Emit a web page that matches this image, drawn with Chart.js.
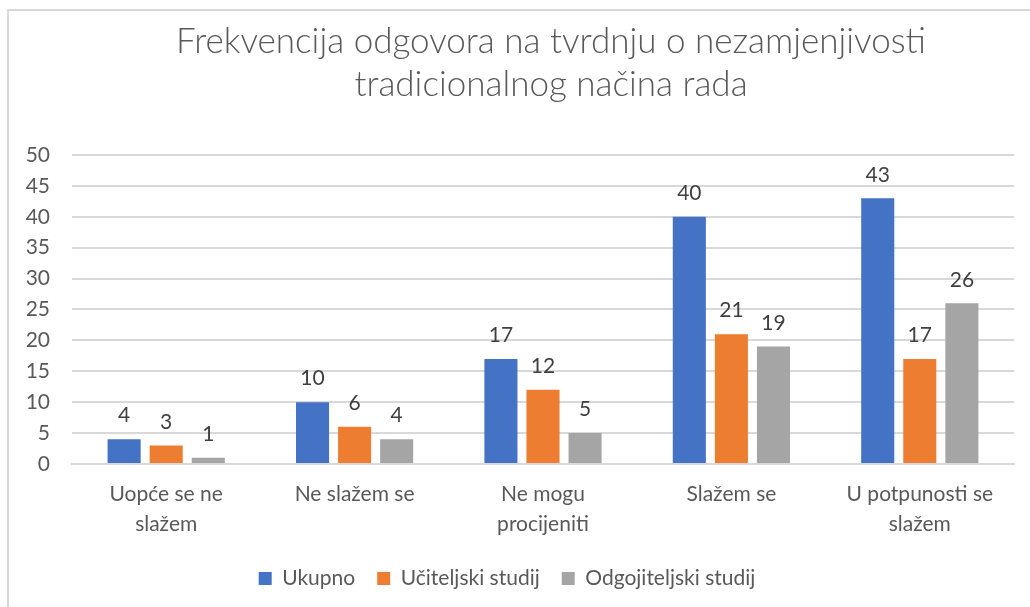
<!DOCTYPE html>
<html>
<head>
<meta charset="utf-8">
<script src="https://cdn.jsdelivr.net/npm/chart.js@4"></script>
<style>
  html, body { margin: 0; padding: 0; background: #fff; }
  #wrap { position: relative; width: 1030px; height: 607px; }
  #frame { position: absolute; left: 7px; top: 9px; width: 1040px; height: 620px;
           border: 2px solid #d9d9d9; box-sizing: border-box; pointer-events: none; }
</style>
</head>
<body>
<div id="wrap">
  <canvas id="chart" width="1030" height="607"></canvas>
  <div id="frame"></div>
</div>
<script>
const titleLines = ['Frekvencija odgovora na tvrdnju o nezamjenjivosti', 'tradicionalnog načina rada'];
const categories = [['Uopće se ne', 'slažem'], 'Ne slažem se', ['Ne mogu', 'procijeniti'], 'Slažem se', ['U potpunosti se', 'slažem']];
const ukupno = [4, 10, 17, 40, 43];
const uciteljski = [3, 6, 12, 21, 17];
const odgojiteljski = [1, 4, 5, 19, 26];

const FONT = "'Lato', 'Open Sans', sans-serif";
const TEXT = '#595959';

// value labels above bars
const barLabels = {
    id: 'barLabels',
    afterDatasetsDraw(chart) {
        const ctx = chart.ctx;
        ctx.save();
        ctx.font = '21px ' + FONT;
        ctx.fillStyle = '#404040';
        ctx.textAlign = 'center';
        ctx.textBaseline = 'bottom';
        chart.data.datasets.forEach((ds, i) => {
            chart.getDatasetMeta(i).data.forEach((bar, j) => {
                ctx.fillText(ds.data[j], bar.x, bar.y - 13);
            });
        });
        ctx.restore();
    }
};

// two line title, centred like the original
const titlePlugin = {
    id: 'titlePlugin',
    afterDraw(chart) {
        const ctx = chart.ctx;
        ctx.save();
        ctx.font = '300 35px ' + FONT;
        ctx.fillStyle = TEXT;
        ctx.textAlign = 'center';
        ctx.textBaseline = 'middle';
        ctx.fillText(titleLines[0], 551, 42);
        ctx.fillText(titleLines[1], 551, 85);
        ctx.restore();
    }
};

new Chart(document.getElementById('chart'), {
    type: 'bar',
    data: {
        labels: categories,
        datasets: [
            { label: 'Ukupno', data: ukupno, backgroundColor: '#4472C4' },
            { label: 'Učiteljski studij', data: uciteljski, backgroundColor: '#ED7D31' },
            { label: 'Odgojiteljski studij', data: odgojiteljski, backgroundColor: '#A5A5A5' }
        ]
    },
    options: {
        responsive: false,
        animation: false,
        categoryPercentage: 0.67,
        barPercentage: 0.786,
        layout: { padding: { top: 155, right: 16, left: 0, bottom: 8 } },
        plugins: {
            title: { display: false },
            tooltip: { enabled: false },
            legend: {
                position: 'bottom',
                labels: {
                    color: TEXT,
                    font: { family: FONT, size: 21 },
                    boxWidth: 13,
                    boxHeight: 13,
                    padding: 22
                }
            }
        },
        scales: {
            x: {
                grid: { display: false },
                border: { color: '#d9d9d9', width: 2 },
                ticks: {
                    color: TEXT,
                    font: { family: FONT, size: 21, lineHeight: 1.43 },
                    maxRotation: 0,
                    padding: 7
                }
            },
            y: {
                min: 0,
                max: 50,
                afterFit(scale) { scale.width = 72; },
                grid: { color: '#d9d9d9', lineWidth: 2, drawTicks: false },
                border: { display: false },
                ticks: {
                    stepSize: 5,
                    color: TEXT,
                    font: { family: FONT, size: 21 },
                    padding: 22
                }
            }
        }
    },
    plugins: [barLabels, titlePlugin]
});
</script>
</body>
</html>
